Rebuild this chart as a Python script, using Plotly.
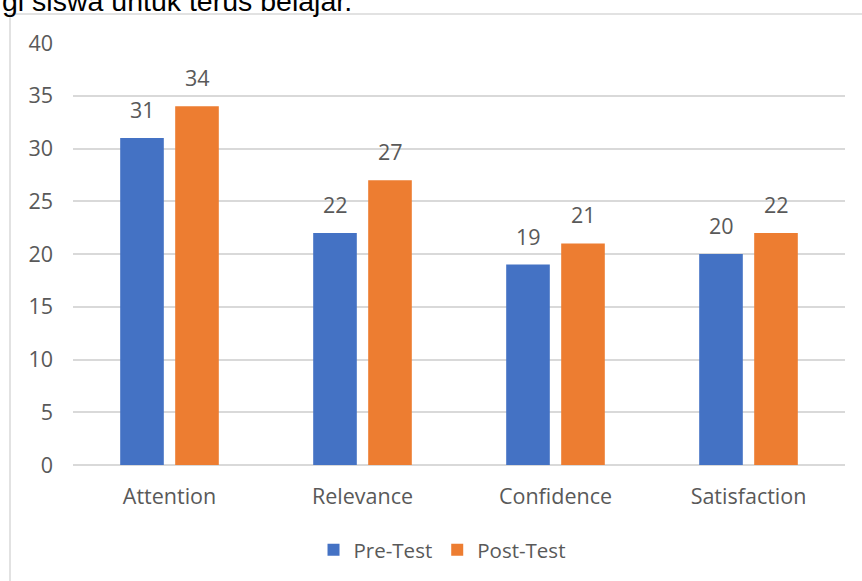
import plotly.graph_objects as go

categories = ["Attention", "Relevance", "Confidence", "Satisfaction"]
pre_test = [31, 22, 19, 20]
post_test = [34, 27, 21, 22]
series_names = ["Pre-Test", "Post-Test"]
y_ticks = [0, 5, 10, 15, 20, 25, 30, 35, 40]
top_text = "gi siswa untuk terus belajar."

BLUE = "#4472C4"
ORANGE = "#ED7D31"
GRAY = "#595959"
GRID = "#D9D9D9"
FONT = "Open Sans"
FS = 21.5

fig = go.Figure()
fig.add_trace(go.Bar(x=categories, y=pre_test, name=series_names[0],
                     marker=dict(color=BLUE, line=dict(width=0))))
fig.add_trace(go.Bar(x=categories, y=post_test, name=series_names[1],
                     marker=dict(color=ORANGE, line=dict(width=0))))

annotations = []
for vals, shift in ((pre_test, -27.5), (post_test, 27.5)):
    for c, v in zip(categories, vals):
        annotations.append(dict(x=c, y=v, xref="x", yref="y", text=str(v),
                                showarrow=False, xshift=shift, yshift=12,
                                yanchor="bottom",
                                font=dict(family=FONT, size=FS, color=GRAY)))

annotations.append(dict(x=-73/772, y=1 + 24/422, xref="paper", yref="paper",
                        text=top_text, showarrow=False, xanchor="left",
                        yanchor="bottom",
                        font=dict(family="Liberation Sans", size=28.5, color="black")))

fig.update_layout(
    width=862, height=581,
    margin=dict(l=73, r=17, t=43, b=116, autoexpand=False),
    paper_bgcolor="white", plot_bgcolor="white",
    barmode="group", bargap=0.43, bargroupgap=0.207,
    font=dict(family=FONT, size=FS, color=GRAY),
    showlegend=True,
    legend=dict(orientation="h", x=0.478, xanchor="center", y=-0.2014,
                yanchor="middle", font=dict(family=FONT, size=20.5, color=GRAY),
                itemwidth=30, traceorder="normal"),
    annotations=annotations,
    shapes=[dict(type="rect", xref="paper", yref="paper",
                 x0=-63/772, x1=1.2, y0=-0.5, y1=1 + 29/422,
                 line=dict(color=GRID, width=1.5), layer="below")],
)
fig.update_yaxes(range=[0, 40], tickvals=y_ticks, showgrid=True, gridcolor=GRID,
                 gridwidth=1.5, zeroline=True, zerolinecolor=GRID, zerolinewidth=1.5,
                 showline=False, ticks="", ticklabelstandoff=19, automargin=False,
                 tickfont=dict(family=FONT, size=FS, color=GRAY))
fig.update_xaxes(showgrid=False, showline=False, ticks="", ticklabelstandoff=16,
                 automargin=False,
                 tickfont=dict(family=FONT, size=FS, color=GRAY))

fig.write_html("out.html", config={"displayModeBar": False},
               post_script="document.body.style.margin='0';document.body.style.overflow='hidden';")
